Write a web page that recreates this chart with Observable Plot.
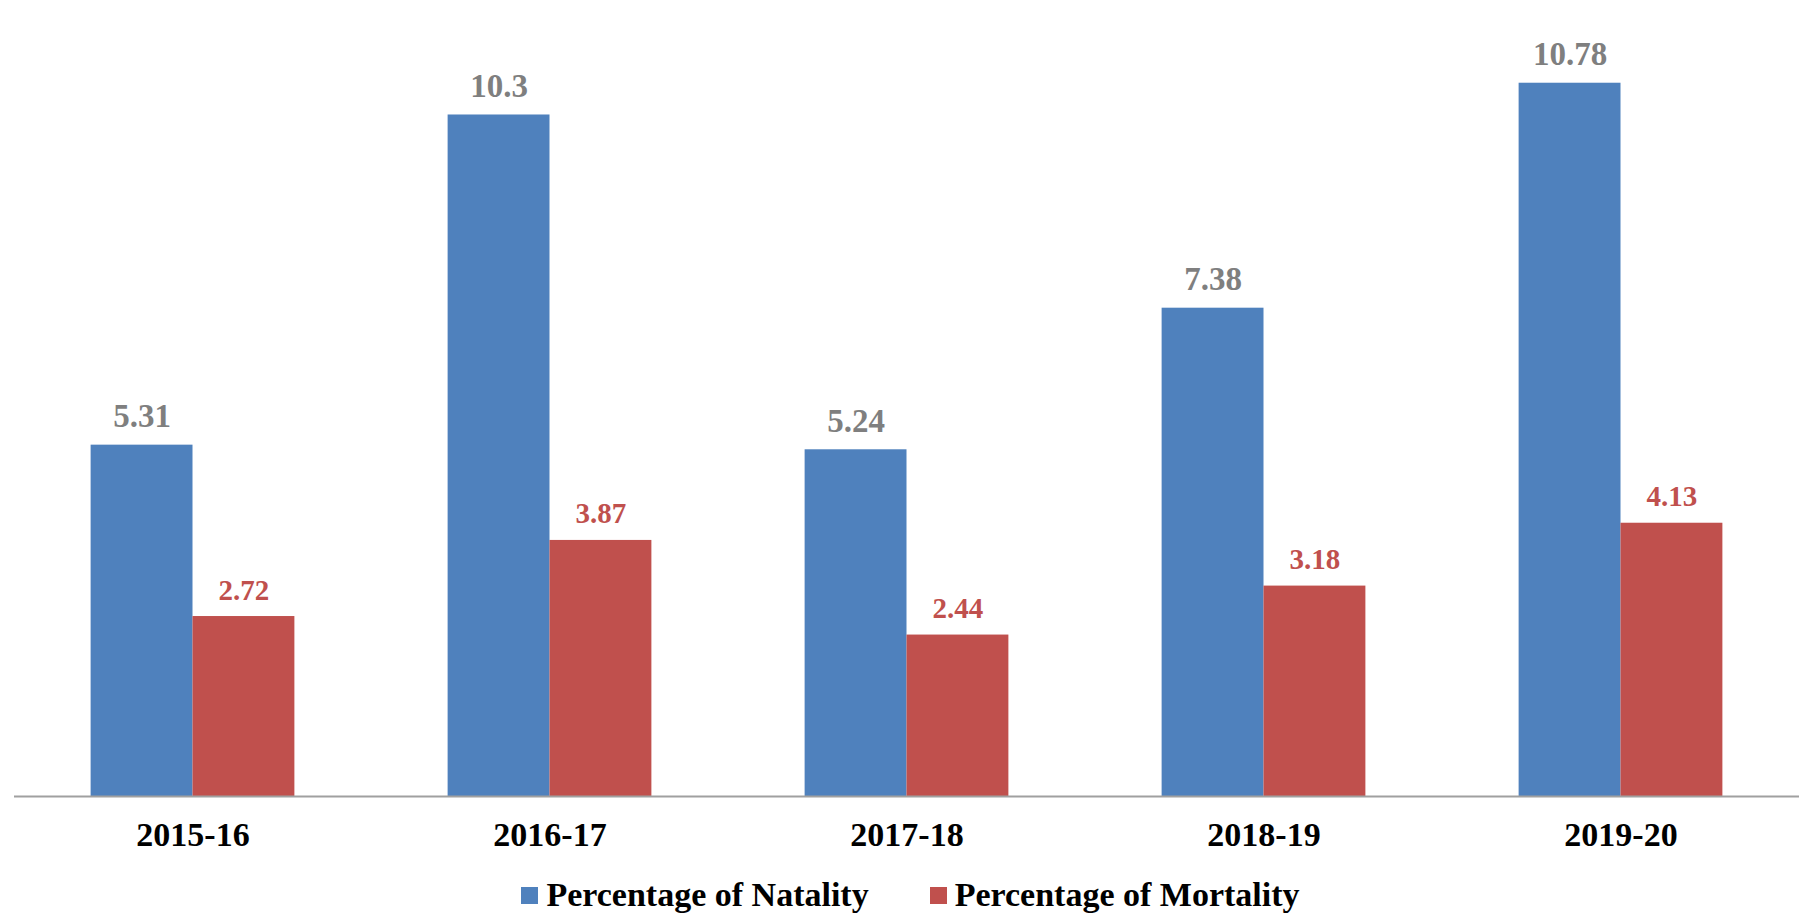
<!DOCTYPE html>
<html>
<head>
<meta charset="utf-8">
<script src="https://cdn.jsdelivr.net/npm/d3@7"></script>
<script src="https://cdn.jsdelivr.net/npm/@observablehq/plot@0.6"></script>
<style>
  html, body { margin: 0; padding: 0; background: #fff; }
  body { width: 1808px; height: 917px; overflow: hidden; font-family: "Liberation Serif", "Times New Roman", serif; }
  #legend { display: flex; justify-content: center; padding-left: 13px; padding-top: 12px; line-height: 34px; font-size: 34px; font-weight: bold; color: #000; }
  .item { display: flex; align-items: center; }
  .item + .item { margin-left: 61px; }
  .sw { width: 17px; height: 17px; margin-right: 8px; display: inline-block; }
</style>
</head>
<body>
<div id="chart"></div>
<div id="legend"></div>
<script>
const years = ["2015-16", "2016-17", "2017-18", "2018-19", "2019-20"];
const natality = [5.31, 10.3, 5.24, 7.38, 10.78];
const mortality = [2.72, 3.87, 2.44, 3.18, 4.13];
const seriesNames = ["Percentage of Natality", "Percentage of Mortality"];
const colors = ["#4F81BD", "#C0504D"];

const data = years.flatMap((yr, i) => [
  {year: yr, series: seriesNames[0], value: natality[i]},
  {year: yr, series: seriesNames[1], value: mortality[i]}
]);
const natData = data.filter(d => d.series === seriesNames[0]);
const morData = data.filter(d => d.series === seriesNames[1]);

const chart = Plot.plot({
  width: 1808,
  height: 866,
  marginLeft: 13,
  marginRight: 8,
  marginTop: 2,
  marginBottom: 70,
  style: {fontFamily: "'Liberation Serif', 'Times New Roman', serif", background: "#fff"},
  fx: {domain: years, padding: 0, axis: null, label: null},
  x: {domain: seriesNames, paddingInner: 0, paddingOuter: 0.752, axis: null, round: false},
  y: {domain: [0, 12], axis: null},
  color: {domain: seriesNames, range: colors},
  marks: [
    Plot.barY(data, {fx: "year", x: "series", y: "value", fill: "series", insetLeft: 0, insetRight: 0}),
    Plot.ruleY([0], {stroke: "#a0a0a0", strokeWidth: 2}),
    Plot.text(natData, {fx: "year", x: "series", y: "value", text: d => String(d.value),
      fill: "#7f7f7f", fontSize: 33, fontWeight: "bold", lineAnchor: "bottom", dy: -18}),
    Plot.text(morData, {fx: "year", x: "series", y: "value", text: d => String(d.value),
      fill: "#C0504D", fontSize: 29, fontWeight: "bold", lineAnchor: "bottom", dy: -17}),
    Plot.axisFx({anchor: "bottom", tickSize: 0, tickPadding: 25, fontSize: 34, fontWeight: "bold", fill: "#000", label: null})
  ]
});
document.getElementById("chart").appendChild(chart);

const legend = document.getElementById("legend");
seriesNames.forEach((name, i) => {
  const item = document.createElement("div");
  item.className = "item";
  const sw = document.createElement("span");
  sw.className = "sw";
  sw.style.background = colors[i];
  const label = document.createElement("span");
  label.textContent = name;
  item.appendChild(sw);
  item.appendChild(label);
  legend.appendChild(item);
});
</script>
</body>
</html>
